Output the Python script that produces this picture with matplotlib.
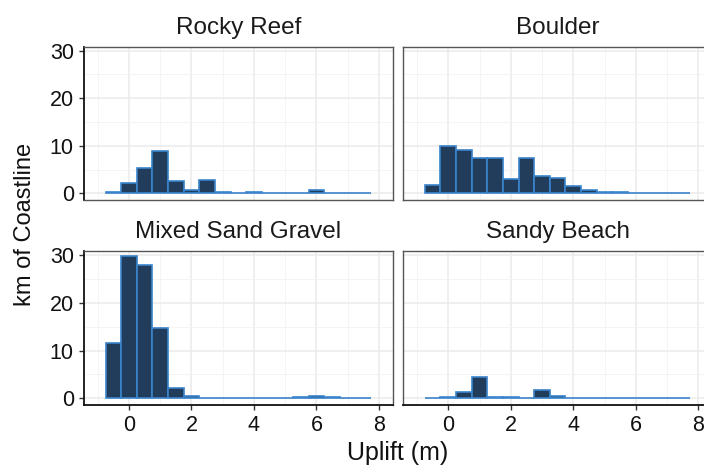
import matplotlib.pyplot as plt
import numpy as np

plt.rcParams['font.family'] = ['Liberation Sans', 'DejaVu Sans']

# histogram bins: width 0.5, centred at -0.5 ... 7.5
bin_centers = [-0.5, 0.0, 0.5, 1.0, 1.5, 2.0, 2.5, 3.0, 3.5, 4.0, 4.5, 5.0, 5.5, 6.0, 6.5, 7.0, 7.5]

rocky_reef = [0.35, 2.1, 5.4, 8.8, 2.6, 0.7, 2.7, 0.35, 0.15, 0.2, 0.1, 0.05, 0.05, 0.6, 0.05, 0.05, 0.05]
boulder = [1.75, 10.0, 9.1, 7.5, 7.5, 3.0, 7.4, 3.65, 3.15, 1.6, 0.6, 0.3, 0.2, 0.15, 0.1, 0.05, 0.05]
mixed_sand_gravel = [11.5, 29.75, 27.9, 14.7, 2.1, 0.55, 0.15, 0.07, 0.07, 0.07, 0.07, 0.15, 0.3, 0.5, 0.2, 0.07, 0.07]
sandy_beach = [0.07, 0.3, 1.2, 4.55, 0.35, 0.2, 0.07, 1.75, 0.5, 0.15, 0.05, 0.05, 0.05, 0.05, 0.05, 0.05, 0.05]

panels = [
    ("Rocky Reef", rocky_reef),
    ("Boulder", boulder),
    ("Mixed Sand Gravel", mixed_sand_gravel),
    ("Sandy Beach", sandy_beach),
]

W, H = 704, 470
fig = plt.figure(figsize=(W / 100, H / 100), dpi=100)

col_x = [84, 403.3]
row_top = [46.7, 251]
row_h = [153.3, 154]
pw = 309

fill = '#223d5c'
edge = '#3a84cc'

for i, (name, vals) in enumerate(panels):
    r, c = divmod(i, 2)
    x0 = col_x[c] / W
    y0 = 1 - (row_top[r] + row_h[r]) / H
    ax = fig.add_axes([x0, y0, pw / W, row_h[r] / H])

    ax.bar(bin_centers, vals, width=0.5, color=fill, edgecolor=edge, linewidth=1.2, zorder=3)

    ax.set_xlim(-1.44, 8.45)
    ax.set_ylim(-1.42, 30.85)
    ax.set_xticks([0, 2, 4, 6, 8])
    ax.set_xticks([-1, 1, 3, 5, 7], minor=True)
    ax.set_yticks([0, 10, 20, 30])
    ax.set_yticks([5, 15, 25], minor=True)
    ax.grid(which='major', color='#ebebeb', linewidth=1.1, zorder=0)
    ax.grid(which='minor', color='#f2f2f2', linewidth=0.6, zorder=0)
    ax.set_axisbelow(True)

    for s in ax.spines.values():
        s.set_color('#555555')
        s.set_linewidth(1.0)
    if c == 0:
        ax.spines['left'].set_color('#111111')
        ax.spines['left'].set_linewidth(1.3)
    if r == 1:
        ax.spines['bottom'].set_color('#111111')
        ax.spines['bottom'].set_linewidth(1.3)

    ax.tick_params(which='major', length=3.8, width=1.0, color='#333333',
                   labelsize=15.5, labelcolor='#111111', pad=3.5)
    ax.tick_params(which='minor', length=0)
    if c == 1:
        ax.tick_params(axis='y', which='major', left=False, labelleft=False)
    if r == 0:
        ax.tick_params(axis='x', which='major', bottom=False, labelbottom=False)

    ax.text(0.5, 1 + 13 / row_h[r], name, transform=ax.transAxes,
            ha='center', va='baseline', fontsize=17.5, color='#1a1a1a')

fig.text(25 / W, 1 - 224 / H, 'km of Coastline', rotation=90,
         ha='center', va='center', fontsize=17, color='#111111')
fig.text(398 / W, 1 - 453 / H, 'Uplift (m)',
         ha='center', va='center', fontsize=18, color='#111111')

fig.savefig('out.png', dpi=100)
